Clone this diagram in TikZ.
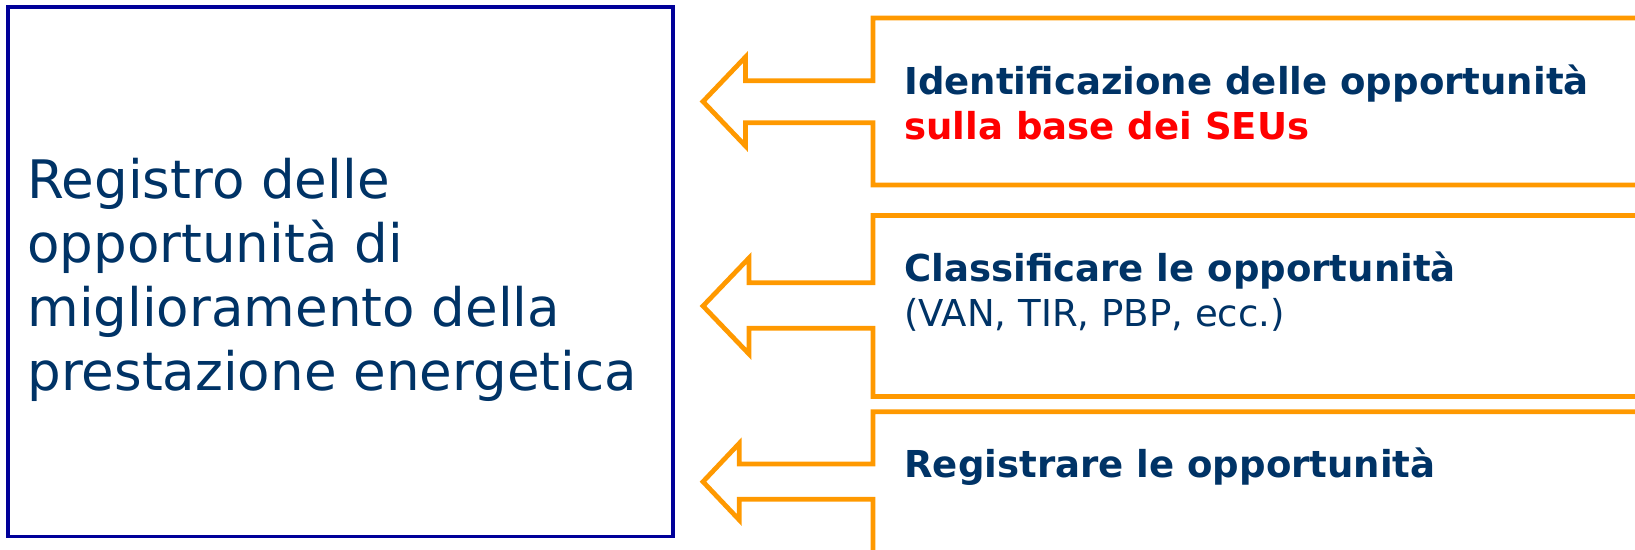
\documentclass[tikz,border=0pt]{standalone}
\usepackage{fontspec}
\setmainfont{DejaVu Sans}
\usepackage{xcolor}
\usepackage{tikz}
\definecolor{navy}{HTML}{003366}
\definecolor{frame}{HTML}{000099}
\definecolor{amber}{HTML}{FF9900}
\definecolor{alert}{HTML}{FF0000}
\tikzset{
  reg/.style={draw=frame, line width=1.9pt},
  flow/.style={draw=amber, line width=2.7pt, line join=miter},
  big/.style={text=navy, font=\fontsize{30.2}{36.3}\selectfont, align=left, anchor=base west, inner sep=0pt},
  lbl/.style={text=navy, font=\fontsize{21.1}{25.6}\selectfont, align=left, anchor=base west, inner sep=0pt}
}

\begin{document}
\begin{tikzpicture}[x=0.02cm, y=-0.02cm]
\useasboundingbox (0,0) rectangle (1635,549);
% register
\draw[reg] (8,7) rectangle (673,536.5);
\node[big] (registro) at (27,390) {Registro delle\\opportunità di\\miglioramento della\\prestazione energetica};

% identify
\draw[flow] (1660,18)--(873,18)--(873,80.7)--(745.5,80.7)--(745.5,57)--(703,101.5)
  --(745.5,146)--(745.5,122.7)--(873,122.7)--(873,185)--(1660,185);
\node[lbl] (ident) at (904,139) {\textbf{Identificazione delle opportunità}\\\textcolor{alert}{\textbf{sulla base dei SEUs}}};

% classify
\draw[flow] (1660,215.5)--(873,215.5)--(873,282.7)--(749,282.7)--(749,258)--(703,306)
  --(749,354)--(749,328.3)--(873,328.3)--(873,396.5)--(1660,396.5);
\node[lbl] (classi) at (904,326) {\textbf{Classificare le opportunità}\\(VAN, TIR, PBP, ecc.)};

% record
\draw[flow] (1660,411.7)--(873,411.7)--(873,464)--(739.3,464)--(739.3,443.3)--(703,481.7)
  --(739.3,520)--(739.3,499.3)--(873,499.3)--(873,570)--(1660,570);
\node[lbl] (regis) at (904,477) {\textbf{Registrare le opportunità}};
\end{tikzpicture}
\end{document}
